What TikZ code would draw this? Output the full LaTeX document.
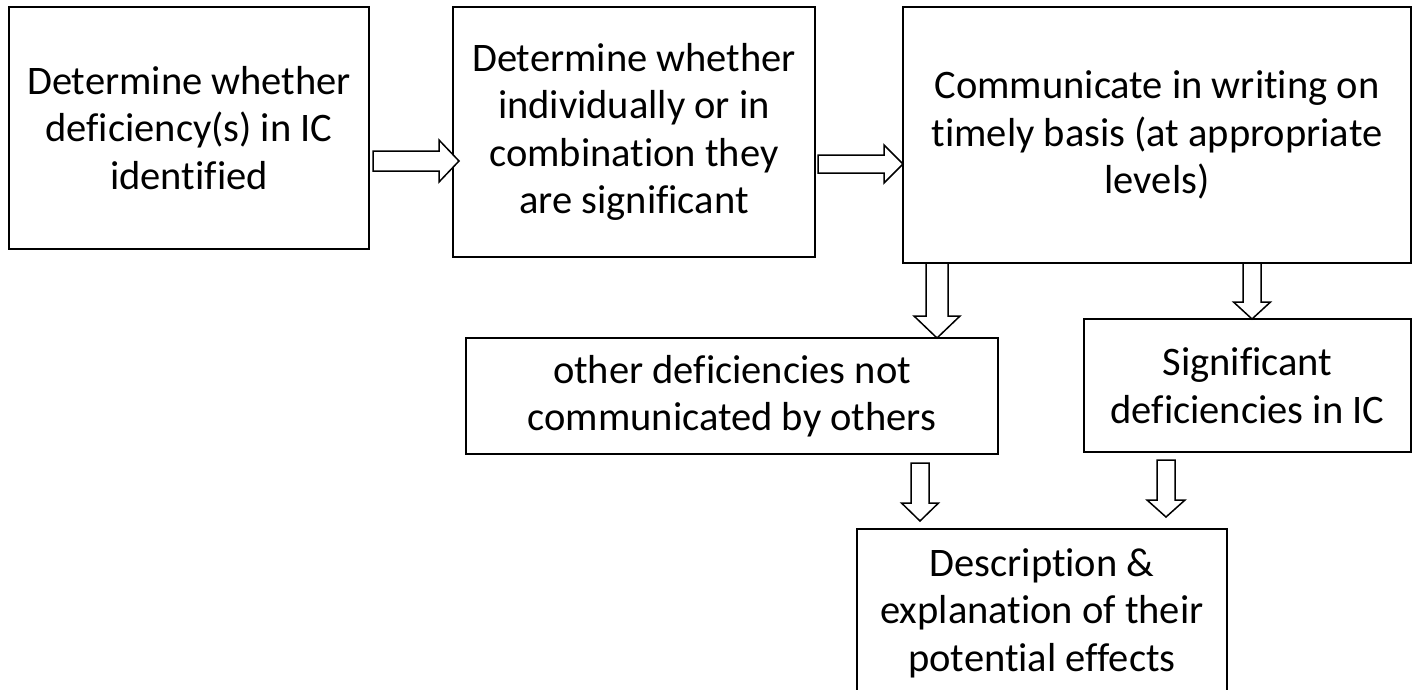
\documentclass[tikz,border=0pt]{standalone}
\usepackage{fontspec}
\setmainfont{Carlito}[Ligatures={NoCommon}]
\usetikzlibrary{calc}
\newcommand\rarrowblk[5]{% start, tip, shaft half, head half, head length
  \draw[blkarrow] ($(#1)+(0,-#3)$) -- ($(#2)+(-#5,-#3)$) -- ($(#2)+(-#5,-#4)$) -- (#2)
    -- ($(#2)+(-#5,#4)$) -- ($(#2)+(-#5,#3)$) -- ($(#1)+(0,#3)$) -- cycle;}
\newcommand\darrowblk[5]{%
  \draw[blkarrow] ($(#1)+(-#3,0)$) -- ($(#2)+(-#3,-#5)$) -- ($(#2)+(-#4,-#5)$) -- (#2)
    -- ($(#2)+(#4,-#5)$) -- ($(#2)+(#3,-#5)$) -- ($(#1)+(#3,0)$) -- cycle;}
\begin{document}
\begin{tikzpicture}[x=1pt,y=-1pt,
  box/.style={draw=black,line width=2pt,rectangle,inner sep=0pt,outer sep=0pt,align=center,
    font=\fontsize{40.5}{47.5}\selectfont},
  blkarrow/.style={draw=black,line width=1.5pt,fill=white,line join=miter}]
\useasboundingbox[fill=white] (0,0) rectangle (1414,689);
\node[box,minimum width=360pt,minimum height=242pt] (b1) at (189,128)
  {Determine whether\\deficiency(s) in IC\\identified};
\node[box,minimum width=362pt,minimum height=250pt] (b2) at (634,132)
  {Determine whether\\individually or in\\combination they\\are significant};
\node[box,minimum width=508pt,minimum height=256pt] (b3) at (1157,135)
  {Communicate in writing on\\timely basis (at appropriate\\levels)};
\node[box,minimum width=532pt,minimum height=116pt] (b4) at (732,396)
  {other deficiencies not\\communicated by others};
\node[box,minimum width=327pt,minimum height=133pt] (b5) at (1247.5,385.5)
  {Significant\\deficiencies in IC};
\node[box,minimum width=370pt,minimum height=168pt] (b6) at (1042,613)
  {Description \&\\explanation of their\\potential effects};
% arrow 1
\coordinate (a1s) at ($(b1.east)+(4,33)$);
\coordinate (a1e) at ($(b2.west |- a1s)+(6,0)$);
\rarrowblk{a1s}{a1e}{10}{21}{20}
% arrow 2
\coordinate (a2s) at ($(b2.east)+(3,32)$);
\coordinate (a2e) at (b3.west |- a2s);
\rarrowblk{a2s}{a2e}{9}{19}{19}
% arrow 3
\coordinate (a3s) at ($(b3.south west)+(34,0)$);
\coordinate (a3e) at (b4.north -| a3s);
\darrowblk{a3s}{a3e}{11}{23}{22}
% arrow 4
\coordinate (a4s) at ($(b3.south -| b5.north)+(4.5,0)$);
\coordinate (a4e) at ($(b5.north)+(4.5,0)$);
\darrowblk{a4s}{a4e}{9}{18.5}{17}
% arrow 5
\coordinate (a5s) at ($(b4.south)+(188,9)$);
\coordinate (a5e) at ($(b6.north -| a5s)+(0,-8)$);
\darrowblk{a5s}{a5e}{9}{18.5}{18}
% arrow 6
\coordinate (a6s) at ($(b5.south)+(-81.5,8)$);
\coordinate (a6e) at ($(b6.north -| a6s)+(0,-12)$);
\darrowblk{a6s}{a6e}{9}{19}{17}
\end{tikzpicture}
\end{document}
